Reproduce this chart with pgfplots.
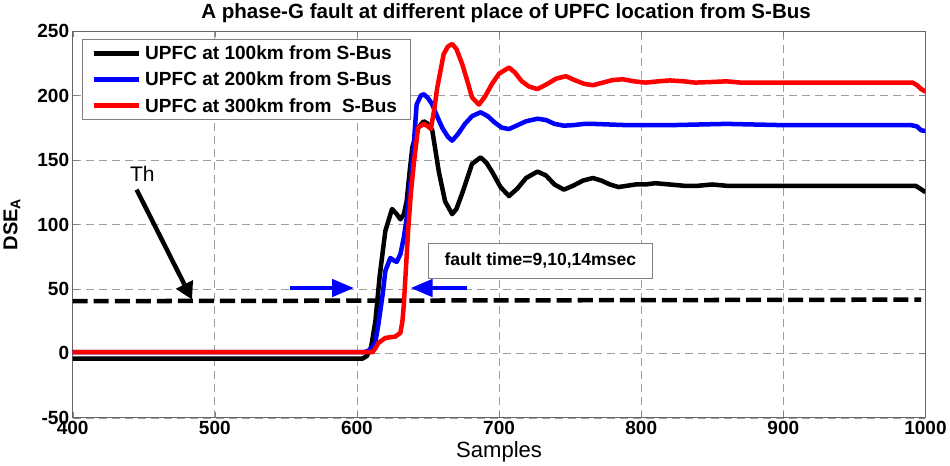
\documentclass[border=0pt]{standalone}
\usepackage{pgfplots}
\pgfplotsset{compat=1.18}
\usepackage{fontspec}
\setmainfont{Liberation Sans}
\usetikzlibrary{arrows.meta}

\begin{document}
\begin{tikzpicture}
\begin{axis}[
    scale only axis, width=851pt, height=386pt,
    xmin=400, xmax=1000, ymin=-50, ymax=250,
    xtick={400,500,...,1000}, ytick={-50,0,...,250},
    /pgf/number format/assume math mode=true,
    /pgf/number format/set thousands separator={},
    ticklabel style={font=\bfseries\fontsize{19}{20}\selectfont},
    tick align=inside, major tick length=6pt, tick style={gray},
    axis line style={gray!80!black, line width=0.8pt},
    grid=major,
    major grid style={gray!75, line width=0.7pt, dash pattern=on 8pt off 5pt},
    title={A phase-G fault at different place of UPFC location from S-Bus},
    title style={font=\bfseries\fontsize{20.5}{22}\selectfont, yshift=-1pt, xshift=7pt},
    xlabel={Samples},
    xlabel style={font=\fontsize{22}{24}\selectfont},
    ylabel={DSE\textsubscript{A}},
    ylabel style={font=\bfseries\fontsize{20}{22}\selectfont, yshift=10pt},
    legend cell align=left,
    legend style={at={(0.0106,0.979)}, anchor=north west, draw=gray,
        line width=0.8pt, font=\bfseries\fontsize{19}{22}\selectfont,
        row sep=7pt, inner xsep=9pt, inner ysep=4pt,
        nodes={inner xsep=4pt}},
    legend image code/.code={\draw[#1, line width=5pt] (0pt,0pt) -- (45pt,0pt);},
    every axis plot/.append style={line width=4.5pt, line join=round},
]
% threshold line
\addplot[black, line width=4.5pt, dash pattern=on 15pt off 6pt, forget plot] coordinates {
    (400,40.5) (997,41.7)
};
\addplot[black] coordinates {
    (400,-4) (604,-4) (607,-2) (610,5) (613,25) (616,60) (620,95) (624.7,112)
    (628,108) (630.6,104) (633,108) (635,118) (637,140) (639,160) (643,175)
    (647,180) (650,178) (653,173) (657.6,141) (662,118) (667,108) (670,112)
    (674,124) (681,147) (687,152) (691,148) (695,141) (701,129) (707,122)
    (713,128) (719,136) (727,141) (733,138) (739,131) (745.6,127) (752,130)
    (759,134) (766,136) (772,134) (778,131) (784,129) (790,130) (796,131)
    (803,131) (810,132) (820,131) (830,130) (840,130) (850,131) (860,130)
    (900,130) (950,130) (993,130) (996,128) (1000,125)
};
\addlegendentry{UPFC at 100km from S-Bus}
\addplot[blue] coordinates {
    (400,1) (605,1) (608,2) (611,5) (613,9) (615,22) (618,45) (620,64)
    (623.5,74) (626,72) (628,71) (630.6,77) (633,90) (635,105) (637,125)
    (639,147) (642,193) (645,200) (647,201) (650,198) (653,193) (656,185)
    (660,175) (664,168) (667,165) (671,170) (676,178) (681,184) (687,187)
    (692,184) (697,179) (702,175) (707,174) (713,177) (719,180) (727,182)
    (733,181) (739,178) (745.6,176.6) (752,177) (760,178) (766,178) (790,177)
    (820,177) (860,178) (900,177) (950,177) (990,177) (994,176) (997,173)
    (1000,172.5)
};
\addlegendentry{UPFC at 200km from S-Bus}
\addplot[red] coordinates {
    (400,1) (608,1) (611,1) (613,4) (615,8) (620,12) (627,13) (630.6,16)
    (632,25) (633,38) (636,95) (638,125) (640,147) (643,175) (647,178)
    (650,176) (652,174) (654.5,190) (656.5,206) (661,232) (664,238) (667,240)
    (670,236) (674,224.6) (678,210) (681,198.5) (685.8,193) (690,199)
    (695,209) (700,217) (707,221.7) (711,218) (716,211) (721,207) (727,205)
    (734,209) (740,213) (747,215) (753,212) (760,209) (766,208) (773,210)
    (780,212) (787,212.6) (795,211) (803,210) (812,211) (820,211.7) (830,211)
    (838,210) (850,210.5) (860,211) (870,210) (920,210) (960,210) (991,210)
    (994,208) (997,205) (1000,203)
};
\addlegendentry{UPFC at 300km from\ \ S-Bus}
% annotations
\node[font=\fontsize{21}{24}\selectfont] at (axis cs:449,139) {Th};
\draw[black, line width=4.5pt, -{Triangle[length=17pt,width=18pt]}]
    (axis cs:445,127) -- (axis cs:484,41.7);
\draw[blue, line width=4.5pt, -{Triangle[length=22pt,width=17pt]}]
    (axis cs:553,50.7) -- (axis cs:598,50.7);
\draw[blue, line width=4.5pt, -{Triangle[length=22pt,width=17pt]}]
    (axis cs:677.6,50.7) -- (axis cs:637.7,50.7);
\node[draw=gray, line width=0.8pt, fill=white, minimum width=224pt, minimum height=35pt,
      font=\bfseries\fontsize{17.5}{20}\selectfont] at (axis cs:729,72) {fault time=9,10,14msec};
\end{axis}
\end{tikzpicture}
\end{document}
